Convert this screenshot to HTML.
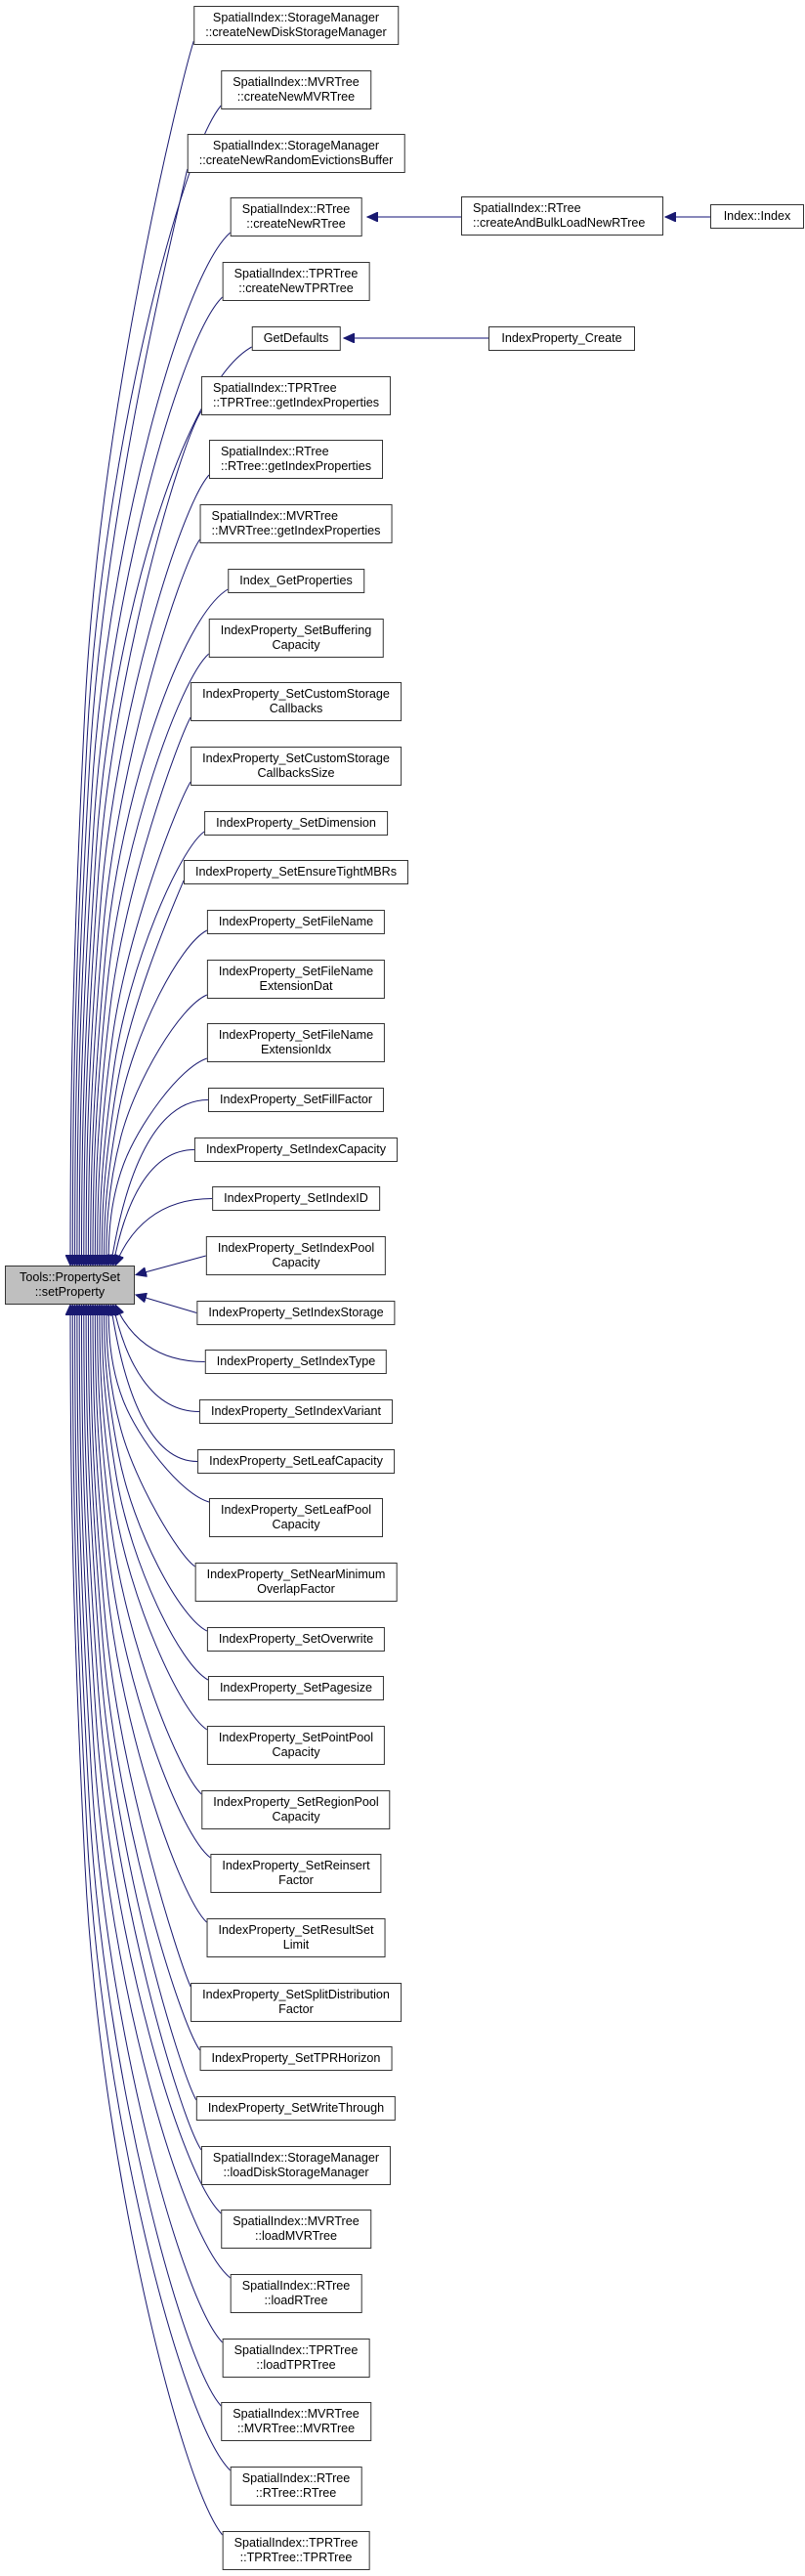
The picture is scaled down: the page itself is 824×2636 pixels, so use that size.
<!DOCTYPE html>
<html><head><meta charset="utf-8">
<style>
html,body{margin:0;padding:0;background:#fff;}
body{width:824px;height:2636px;position:relative;overflow:hidden;font-family:"Liberation Sans",Arial,sans-serif;}
.n{position:absolute;box-sizing:border-box;border:1px solid #333;background:#fff;font-size:12.6px;line-height:15px;padding:4px 11px;white-space:nowrap;text-align:center;color:#000;}
.c{left:303px;transform:translateX(-50%);}
.s{height:25px;}
.d{height:40px;}
.l{text-align:left;}
svg{position:absolute;left:0;top:0;}
</style></head><body>
<svg id="sv" width="824" height="2636" xmlns="http://www.w3.org/2000/svg">
<defs><marker id="ah" markerUnits="userSpaceOnUse" markerWidth="12" markerHeight="10" refX="11" refY="5" orient="auto"><path d="M0,0 L11,5 L0,10 Z" fill="#191970" stroke="#191970"/></marker></defs>
<g id="eg" fill="none" stroke="#191970" stroke-width="1"></g>
<line x1="472" y1="222" x2="376" y2="222" stroke="#404090" stroke-width="1.3" marker-end="url(#ah)"/>
<line x1="727" y1="222" x2="681" y2="222" stroke="#404090" stroke-width="1.3" marker-end="url(#ah)"/>
<line x1="500" y1="346" x2="352" y2="346" stroke="#404090" stroke-width="1.3" marker-end="url(#ah)"/>
</svg>

<div class="n d" id="main" style="left:5px;top:1295px;width:133px;background:#bfbfbf;">Tools::PropertySet<br>::setProperty</div>

<div class="n d" style="left:472px;top:201px;width:207px;text-align:left;">SpatialIndex::RTree<br>::createAndBulkLoadNewRTree</div>
<div class="n s" style="left:727px;top:209px;width:96px;">Index::Index</div>
<div class="n s" style="left:500px;top:334px;width:150px;">IndexProperty_Create</div>

<div class="n c d col" style="top:6px">SpatialIndex::StorageManager<br>::createNewDiskStorageManager</div>
<div class="n c d col" style="top:72px">SpatialIndex::MVRTree<br>::createNewMVRTree</div>
<div class="n c d col" style="top:137px">SpatialIndex::StorageManager<br>::createNewRandomEvictionsBuffer</div>
<div class="n c d col" style="top:202px">SpatialIndex::RTree<br>::createNewRTree</div>
<div class="n c d col" style="top:268px">SpatialIndex::TPRTree<br>::createNewTPRTree</div>
<div class="n c s col" style="top:334px">GetDefaults</div>
<div class="n c d col l" style="top:385px">SpatialIndex::TPRTree<br>::TPRTree::getIndexProperties</div>
<div class="n c d col l" style="top:450px">SpatialIndex::RTree<br>::RTree::getIndexProperties</div>
<div class="n c d col l" style="top:516px">SpatialIndex::MVRTree<br>::MVRTree::getIndexProperties</div>
<div class="n c s col" style="top:582px">Index_GetProperties</div>
<div class="n c d col" style="top:633px">IndexProperty_SetBuffering<br>Capacity</div>
<div class="n c d col" style="top:698px">IndexProperty_SetCustomStorage<br>Callbacks</div>
<div class="n c d col" style="top:764px">IndexProperty_SetCustomStorage<br>CallbacksSize</div>
<div class="n c s col" style="top:830px">IndexProperty_SetDimension</div>
<div class="n c s col" style="top:880px">IndexProperty_SetEnsureTightMBRs</div>
<div class="n c s col" style="top:931px">IndexProperty_SetFileName</div>
<div class="n c d col" style="top:982px">IndexProperty_SetFileName<br>ExtensionDat</div>
<div class="n c d col" style="top:1047px">IndexProperty_SetFileName<br>ExtensionIdx</div>
<div class="n c s col" style="top:1113px">IndexProperty_SetFillFactor</div>
<div class="n c s col" style="top:1164px">IndexProperty_SetIndexCapacity</div>
<div class="n c s col" style="top:1214px">IndexProperty_SetIndexID</div>
<div class="n c d col" style="top:1265px">IndexProperty_SetIndexPool<br>Capacity</div>
<div class="n c s col" style="top:1331px">IndexProperty_SetIndexStorage</div>
<div class="n c s col" style="top:1381px">IndexProperty_SetIndexType</div>
<div class="n c s col" style="top:1432px">IndexProperty_SetIndexVariant</div>
<div class="n c s col" style="top:1483px">IndexProperty_SetLeafCapacity</div>
<div class="n c d col" style="top:1533px">IndexProperty_SetLeafPool<br>Capacity</div>
<div class="n c d col" style="top:1599px">IndexProperty_SetNearMinimum<br>OverlapFactor</div>
<div class="n c s col" style="top:1665px">IndexProperty_SetOverwrite</div>
<div class="n c s col" style="top:1715px">IndexProperty_SetPagesize</div>
<div class="n c d col" style="top:1766px">IndexProperty_SetPointPool<br>Capacity</div>
<div class="n c d col" style="top:1832px">IndexProperty_SetRegionPool<br>Capacity</div>
<div class="n c d col" style="top:1897px">IndexProperty_SetReinsert<br>Factor</div>
<div class="n c d col" style="top:1963px">IndexProperty_SetResultSet<br>Limit</div>
<div class="n c d col" style="top:2029px">IndexProperty_SetSplitDistribution<br>Factor</div>
<div class="n c s col" style="top:2094px">IndexProperty_SetTPRHorizon</div>
<div class="n c s col" style="top:2145px">IndexProperty_SetWriteThrough</div>
<div class="n c d col" style="top:2196px">SpatialIndex::StorageManager<br>::loadDiskStorageManager</div>
<div class="n c d col" style="top:2261px">SpatialIndex::MVRTree<br>::loadMVRTree</div>
<div class="n c d col" style="top:2327px">SpatialIndex::RTree<br>::loadRTree</div>
<div class="n c d col" style="top:2393px">SpatialIndex::TPRTree<br>::loadTPRTree</div>
<div class="n c d col" style="top:2458px">SpatialIndex::MVRTree<br>::MVRTree::MVRTree</div>
<div class="n c d col" style="top:2524px">SpatialIndex::RTree<br>::RTree::RTree</div>
<div class="n c d col" style="top:2590px">SpatialIndex::TPRTree<br>::TPRTree::TPRTree</div>

<script>
(function(){
var cols=[].slice.call(document.querySelectorAll('.col'));
var eg=document.getElementById('eg');
var MY=1315;
var items=cols.map(function(e){var r=e.getBoundingClientRect();return {L:r.left,cy:r.top+r.height/2,h:r.height};});
var above=items.filter(function(o){return o.cy<MY-40;}).sort(function(a,b){return b.cy-a.cy;});
var below=items.filter(function(o){return o.cy>MY+40;}).sort(function(a,b){return a.cy-b.cy;});
var near=items.filter(function(o){return Math.abs(o.cy-MY)<=40;});
function add(d){var p=document.createElementNS('http://www.w3.org/2000/svg','path');p.setAttribute('d',d);p.setAttribute('marker-end','url(#ah)');eg.appendChild(p);}
function grp(arr,ty){
  var n=arr.length;
  arr.forEach(function(o,i){
    var tx=118-(n>1?i*(46/(n-1)):0);
    var L=o.L, dy=Math.abs(ty-o.cy), s=ty>o.cy?1:-1;
    var p;
    if(dy<200){
      p='M'+L+','+o.cy+' C'+(tx+0.45*(L-tx))+','+o.cy+' '+(tx+0.15*(L-tx))+','+(o.cy+(ty-o.cy)*0.45)+' '+tx+','+ty;
    } else {
      var sy=o.cy+s*(o.h/2-4);
      p='M'+L+','+sy+' C'+(L-0.9*(L-181))+','+(sy+s*dy*0.04)+' '+(tx+30)+','+(sy+s*dy*0.3)+' '+(tx+15)+','+(ty-s*dy*0.45)+
        ' S'+tx+','+(ty-s*dy*0.1)+' '+tx+','+ty;
    }
    add(p);
  });
}
grp(above,1295);
grp(below,1335);
near.forEach(function(o){
  var ty=MY+(o.cy-MY)*0.35;
  add('M'+o.L+','+o.cy+' L139,'+ty);
});
})();
</script>
</body></html>
